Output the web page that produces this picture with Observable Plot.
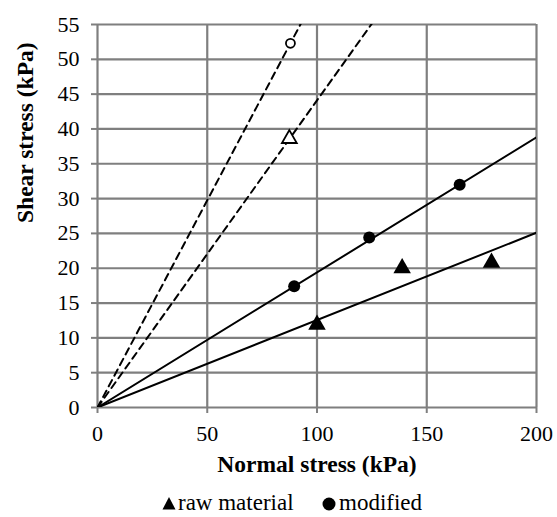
<!DOCTYPE html>
<html>
<head>
<meta charset="utf-8">
<script src="https://cdn.jsdelivr.net/npm/d3@7"></script>
<script src="https://cdn.jsdelivr.net/npm/@observablehq/plot@0.6"></script>
</head>
<body style="margin:0;padding:0;background:#fff;width:557px;height:517px;overflow:hidden;position:relative;font-family:'Liberation Serif',serif;">
<div id="chart"></div>
<div id="legend" style="position:absolute;left:0;top:491px;width:557px;height:25px;font-family:'Liberation Serif',serif;font-size:23px;line-height:23px;color:#000;white-space:nowrap;">
  <svg style="position:absolute;left:162px;top:5px" width="14" height="14"><path d="M7,1 L13.5,13.5 L0.5,13.5 Z" fill="#000"/></svg>
  <span style="position:absolute;left:178px;top:0">raw material</span>
  <svg style="position:absolute;left:322px;top:6px" width="14" height="14"><circle cx="7" cy="7" r="6.5" fill="#000"/></svg>
  <span style="position:absolute;left:339px;top:0">modified</span>
</div>
<script>
// Data
const rawX = [100, 138.8, 179.5];
const rawY = [11.9, 20.0, 20.8];
const modX = [89.6, 123.8, 165];
const modY = [17.4, 24.4, 32.0];
const openCircleX = [87.9];
const openCircleY = [52.3];
const openTriX = [87.4];
const openTriY = [38.6];
// Fitted line slopes (through origin)
const slopeRaw = 0.1255;
const slopeMod = 0.194;
const slopeDashCircle = 0.595;
const slopeDashTri = 0.441;
const xTicks = [0, 50, 100, 150, 200];
const yTicks = [0, 5, 10, 15, 20, 25, 30, 35, 40, 45, 50, 55];

const xDomain = [0, 200];
const fitLine = (s) => xDomain.map(x => ({x, y: s * x}));

const FONT = "Liberation Serif";
const gray = "#7f7f7f";
const chart = Plot.plot({
  width: 557,
  height: 490,
  marginTop: 24,
  marginLeft: 97,
  marginRight: 21,
  marginBottom: 83,
  style: { fontFamily: FONT, fontSize: "22px", color: "#000", background: "#fff" },
  x: { domain: xDomain },
  y: { domain: [0, 55] },
  marks: [
    Plot.gridX(xTicks, { stroke: gray, strokeOpacity: 1, strokeWidth: 2.2 }),
    Plot.gridY(yTicks, { stroke: gray, strokeOpacity: 1, strokeWidth: 2.2 }),
    Plot.axisX(xTicks, { tickSize: 6, tickPadding: 12, stroke: gray, strokeWidth: 2, fill: "#000", fontSize: 22, fontFamily: FONT, label: null }),
    Plot.axisY(yTicks, { tickSize: 6, tickPadding: 12, stroke: gray, strokeWidth: 2, fill: "#000", fontSize: 22, fontFamily: FONT, label: null }),
    Plot.line(fitLine(slopeRaw), { x: "x", y: "y", stroke: "#000", strokeWidth: 2, clip: true }),
    Plot.line(fitLine(slopeMod), { x: "x", y: "y", stroke: "#000", strokeWidth: 2, clip: true }),
    Plot.line(fitLine(slopeDashCircle), { x: "x", y: "y", stroke: "#000", strokeWidth: 2, strokeDasharray: "7,5", clip: true }),
    Plot.line(fitLine(slopeDashTri), { x: "x", y: "y", stroke: "#000", strokeWidth: 2, strokeDasharray: "7,5", clip: true }),
    Plot.dot(rawX.map((x, i) => ({x, y: rawY[i]})), { x: "x", y: "y", symbol: "triangle", r: 6.5, fill: "#000" }),
    Plot.dot(modX.map((x, i) => ({x, y: modY[i]})), { x: "x", y: "y", symbol: "circle", r: 6, fill: "#000" }),
    Plot.dot(openCircleX.map((x, i) => ({x, y: openCircleY[i]})), { x: "x", y: "y", symbol: "circle", r: 4.5, fill: "#fff", stroke: "#000", strokeWidth: 1.8 }),
    Plot.dot(openTriX.map((x, i) => ({x, y: openTriY[i]})), { x: "x", y: "y", symbol: "triangle", r: 5.5, fill: "#fff", stroke: "#000", strokeWidth: 1.8 }),
    Plot.text(["Normal stress (kPa)"], { frameAnchor: "bottom", dy: 64, fontWeight: "bold", fontSize: 23.5, fontFamily: FONT, fill: "#000" }),
    Plot.text(["Shear stress (kPa)"], { frameAnchor: "left", dx: -72, dy: 7, rotate: -90, fontWeight: "bold", fontSize: 23.5, fontFamily: FONT, fill: "#000" })
  ]
});
document.getElementById("chart").appendChild(chart);
</script>
</body>
</html>
